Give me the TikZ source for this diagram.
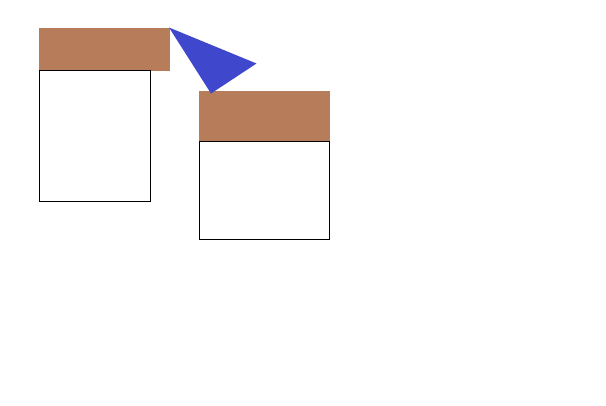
\documentclass[tikz,border=0pt]{standalone}
\usepackage{xcolor}
\definecolor{lidbrown}{RGB}{183,125,90}
\definecolor{flapblue}{RGB}{63,72,204}
\tikzset{lid/.style={fill=lidbrown,draw=none},
  box/.style={fill=white,draw=black,line width=1pt},
  flap/.style={fill=flapblue,draw=none}}

\begin{document}
\begin{tikzpicture}[x=1pt,y=-1pt]
\useasboundingbox (0,0) rectangle (606,405);
% left box
\fill[lid] (39,28) rectangle (170,71);
\draw[box] (39,70) rectangle (150,201);
% right box
\fill[lid] (199,91) rectangle (330,141);
\draw[box] (199,141) rectangle (329,239);
% triangle between them
\fill[flap] (169,27.5) -- (256.5,63.5) -- (211,93.5) -- cycle;
\end{tikzpicture}
\end{document}
